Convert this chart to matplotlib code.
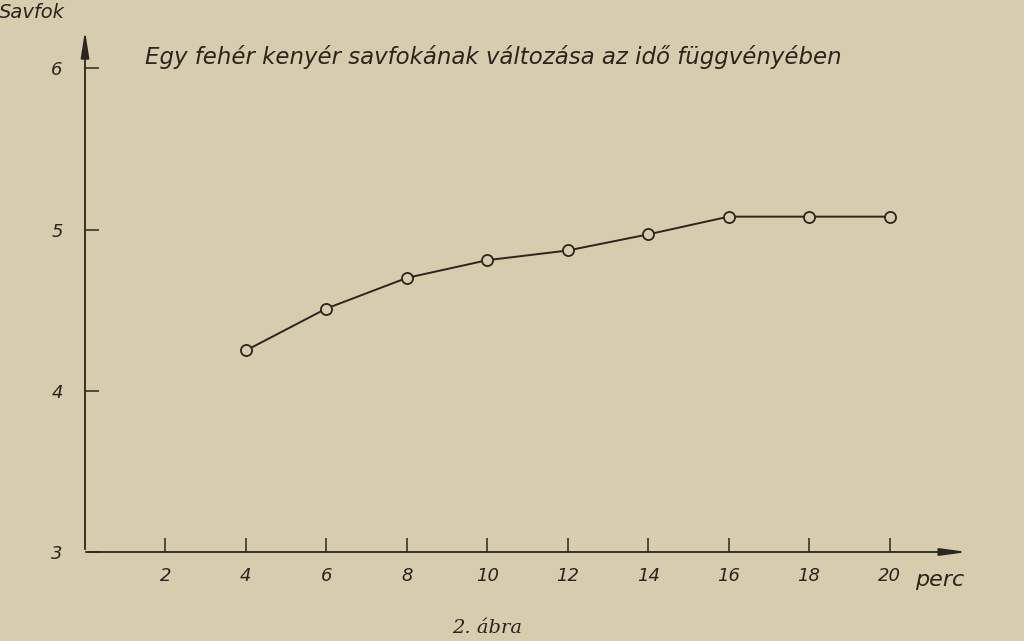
import matplotlib.pyplot as plt

# time (perc) and savfok values
perc = [4, 6, 8, 10, 12, 14, 16, 18, 20]
savfok = [4.25, 4.51, 4.70, 4.81, 4.87, 4.97, 5.08, 5.08, 5.08]

x_ticks = [2, 4, 6, 8, 10, 12, 14, 16, 18, 20]
y_ticks = [3, 4, 5, 6]

paper = '#d7ccad'
ink = '#2a251e'


def main():
    fig = plt.figure(figsize=(10.24, 6.41), dpi=100, facecolor=paper)
    ax = fig.add_axes([85 / 1024, 1 - 552 / 641, 885 / 1024, 524 / 641])
    ax.set_facecolor(paper)
    ax.set_xlim(0, 22)
    ax.set_ylim(3, 6.25)

    for s in ax.spines.values():
        s.set_visible(False)

    # axes with arrow heads
    ax.annotate('', xy=(22, 3), xytext=(0, 3), annotation_clip=False,
                arrowprops=dict(arrowstyle='-|>,head_length=1.6,head_width=0.22',
                                color=ink, lw=1.3))
    ax.annotate('', xy=(0, 6.25), xytext=(0, 3), annotation_clip=False,
                arrowprops=dict(arrowstyle='-|>,head_length=1.6,head_width=0.25',
                                color=ink, lw=1.3))

    font = dict(family='DejaVu Sans', style='italic', color=ink)

    ax.set_xticks(x_ticks)
    ax.set_xticklabels([str(t) for t in x_ticks], fontsize=13, **font)
    ax.set_yticks(y_ticks)
    ax.set_yticklabels([str(t) for t in y_ticks], fontsize=13, **font)
    ax.tick_params(axis='x', direction='in', length=10, width=1.1, color=ink, pad=11)
    ax.tick_params(axis='y', direction='in', length=10, width=1.1, color=ink, pad=16)

    ax.plot(perc, savfok, color=ink, lw=1.4, marker='o', markersize=8,
            markerfacecolor=paper, markeredgecolor=ink, markeredgewidth=1.3,
            clip_on=False)

    fig.text(145 / 1024, 1 - 57 / 641,
             'Egy fehér kenyér savfokának változása az idő függvényében',
             fontsize=16.5, va='center', ha='left', **font)
    fig.text(32 / 1024, 1 - 13 / 641, 'Savfok', fontsize=14,
             va='center', ha='center', **font)
    fig.text(940 / 1024, 1 - 580 / 641, 'perc', fontsize=16,
             va='center', ha='center', **font)
    fig.text(487 / 1024, 1 - 628 / 641, '2. ábra', fontsize=14,
             va='center', ha='center', family='DejaVu Serif', style='italic',
             color=ink)

    fig.savefig('out.png', dpi=100, facecolor=paper)


if __name__ == '__main__':
    main()
